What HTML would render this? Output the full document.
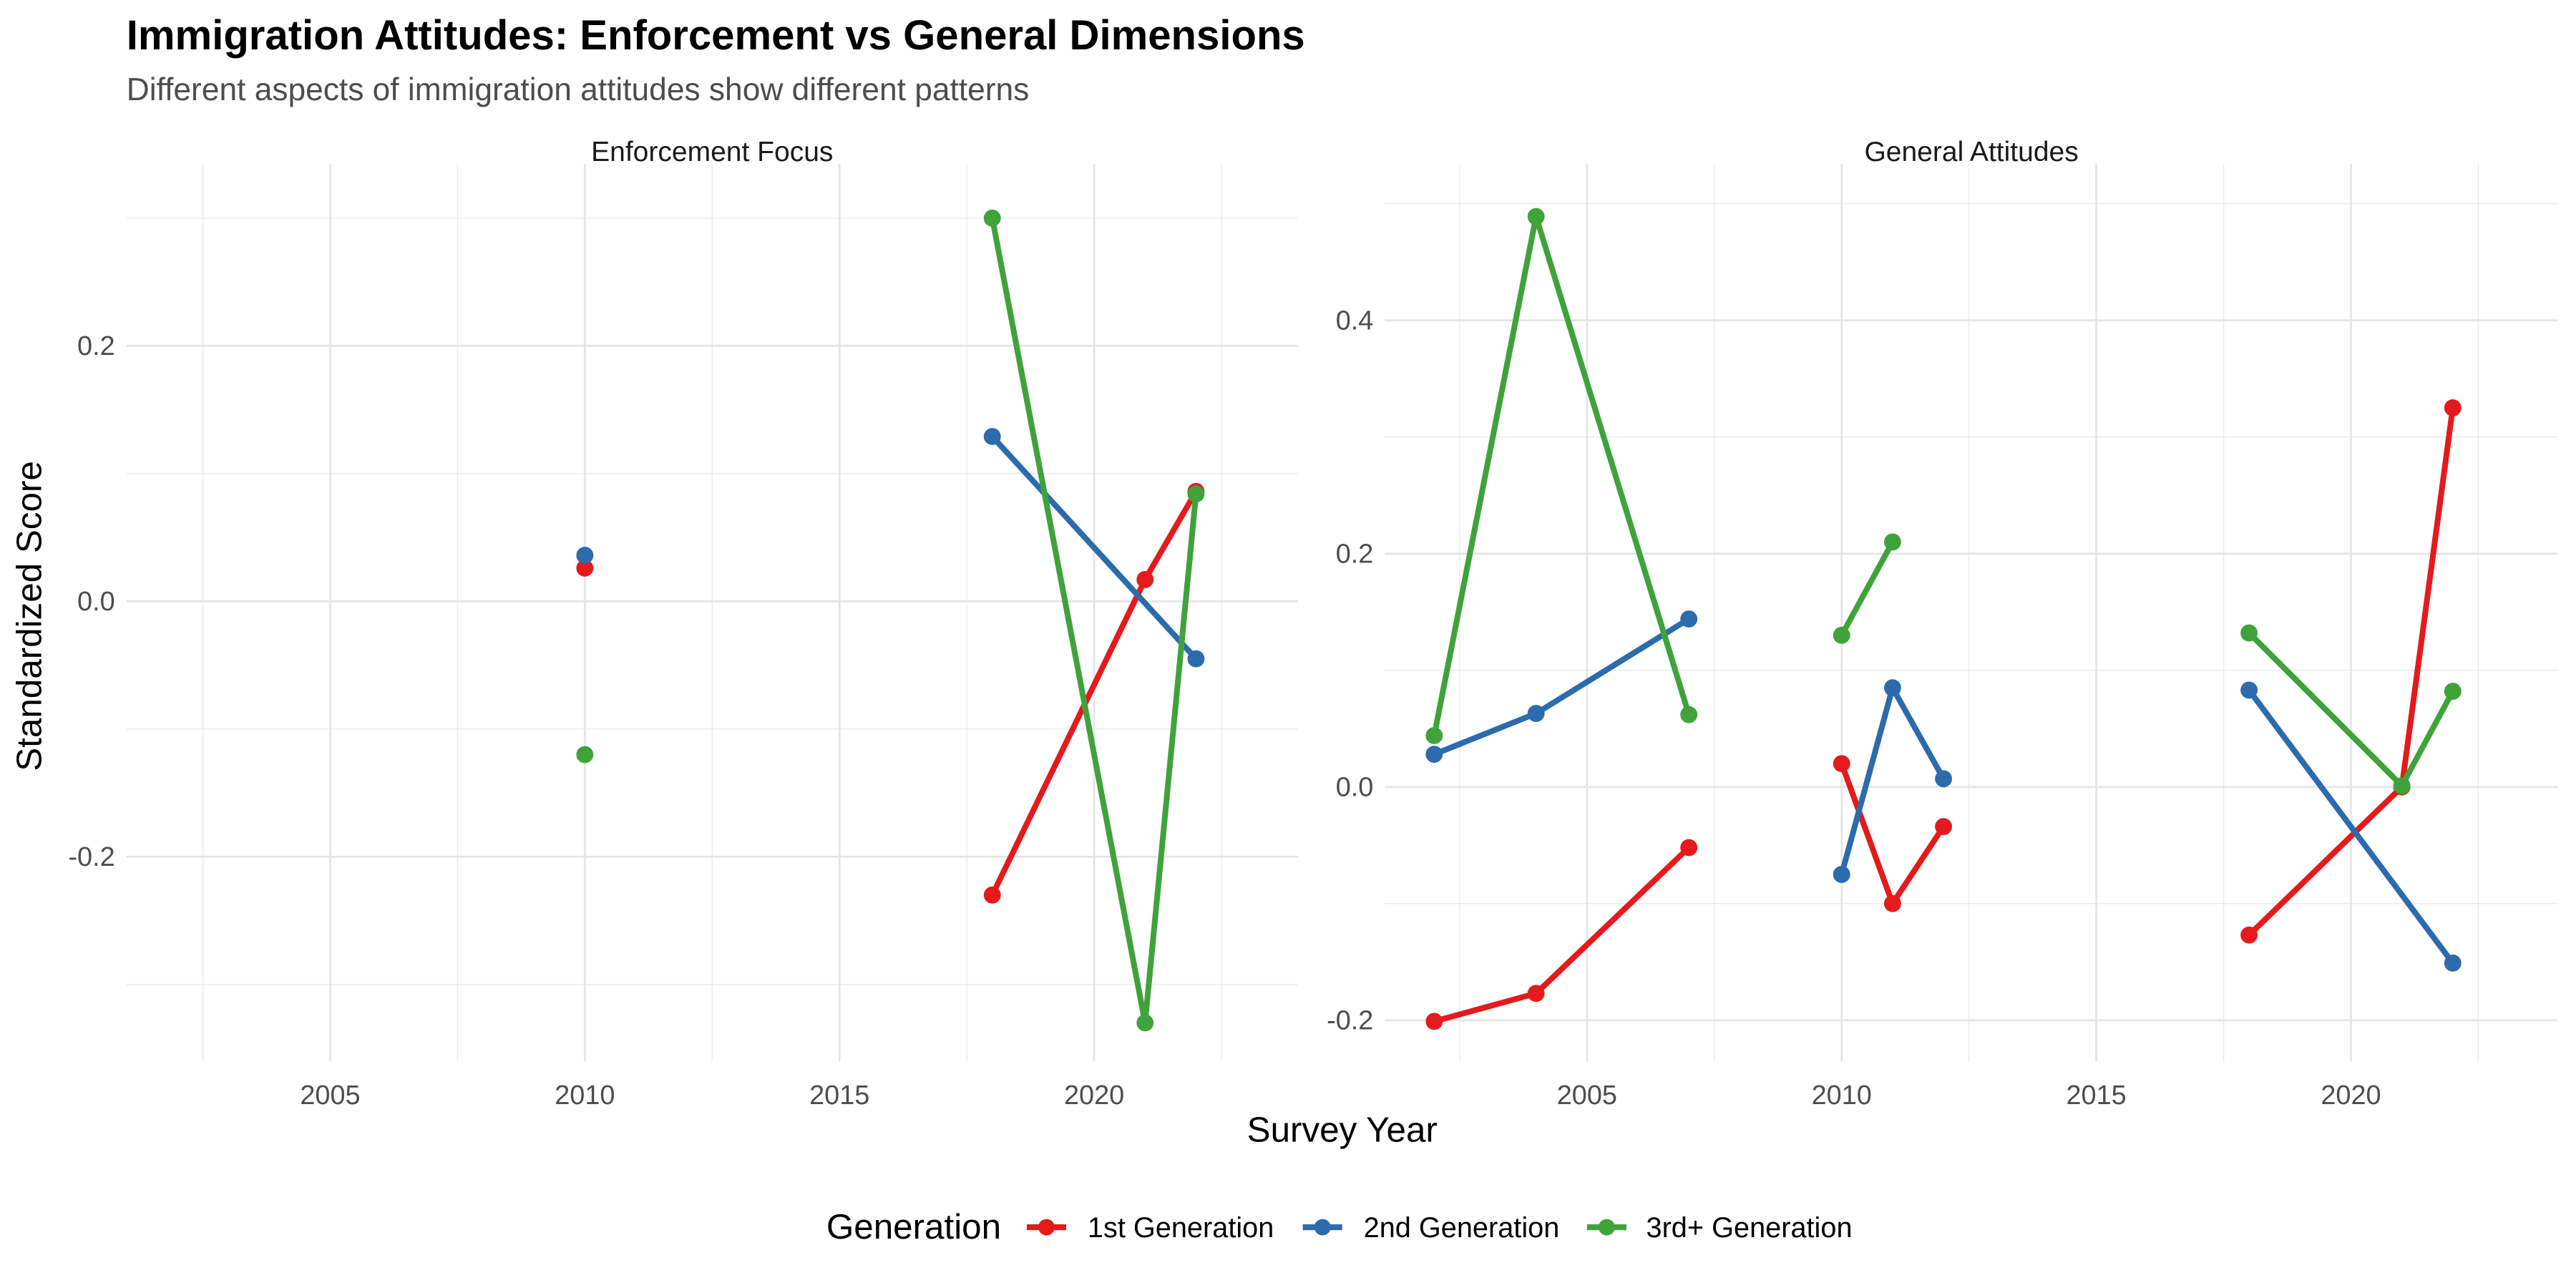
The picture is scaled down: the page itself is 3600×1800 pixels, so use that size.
<!DOCTYPE html>
<html><head><meta charset="utf-8"><style>
html,body{margin:0;padding:0;background:#fff;}
svg{display:block;font-family:"Liberation Sans",Arial,sans-serif;}
</style></head><body>
<svg id="chart" width="3600" height="1800" viewBox="0 0 1568 784" xmlns="http://www.w3.org/2000/svg">
<rect width="1568" height="784" fill="#fff"/>
<text x="77" y="30" font-size="25.3" font-weight="bold" fill="#000">Immigration Attitudes: Enforcement vs General Dimensions</text>
<text x="77" y="61" font-size="19.3" fill="#4d4d4d">Different aspects of immigration attitudes show different patterns</text>
<g id="panels"></g>
<text x="817" y="695" font-size="21.5" text-anchor="middle" fill="#000">Survey Year</text>
<text transform="translate(25,375) rotate(-90)" font-size="21.5" text-anchor="middle" fill="#000">Standardized Score</text>
<g>
<text x="503" y="754" font-size="21.5" fill="#000">Generation</text>
<g><line x1="625" y1="747" x2="649" y2="747" stroke="#E41A1C" stroke-width="3.5"/><circle cx="637" cy="747" r="5" fill="#E41A1C"/><text x="662" y="753" font-size="17.3" fill="#000">1st Generation</text></g>
<g><line x1="793" y1="747" x2="817" y2="747" stroke="#2C6BAC" stroke-width="3.5"/><circle cx="805" cy="747" r="5" fill="#2C6BAC"/><text x="830" y="753" font-size="17.3" fill="#000">2nd Generation</text></g>
<g><line x1="966" y1="747" x2="990" y2="747" stroke="#3FA33A" stroke-width="3.5"/><circle cx="978" cy="747" r="5" fill="#3FA33A"/><text x="1002" y="753" font-size="17.3" fill="#000">3rd+ Generation</text></g>
</g>
</svg>
<script>
// null year = line break
const leftYears = [2010, null, 2018, 2021, 2022];
const leftFirst = [0.026, null, -0.230, 0.017, 0.086];
const leftSecond = [0.036, null, 0.129, null, -0.045];
const leftThird = [-0.120, null, 0.300, -0.330, 0.084];

const rightYears = [2002, 2004, 2007, null, 2010, 2011, 2012, null, 2018, 2021, 2022];
const rightFirst = [-0.201, -0.177, -0.052, null, 0.020, -0.100, -0.034, null, -0.127, 0.000, 0.325];
const rightSecond = [0.028, 0.063, 0.144, null, -0.075, 0.085, 0.007, null, 0.083, null, -0.151];
const rightThird = [0.044, 0.489, 0.062, null, 0.130, 0.210, null, null, 0.132, 0.001, 0.082];

const xTicks = [2005, 2010, 2015, 2020];
const leftYTicks = [-0.2, 0.0, 0.2];
const rightYTicks = [-0.2, 0.0, 0.2, 0.4];
const colors = ['#E41A1C', '#2C6BAC', '#3FA33A'];
const NS = 'http://www.w3.org/2000/svg';
const root = document.getElementById('panels');

function mk(tag, attrs, parent) {
  const e = document.createElementNS(NS, tag);
  for (const k in attrs) e.setAttribute(k, attrs[k]);
  parent.appendChild(e);
  return e;
}

function panel(cfg) {
  const g = mk('g', {}, root);
  
  
  const sx = y => cfg.x0 + (y - 2005) * cfg.pxYear;
  const sy = v => cfg.y0 - v * cfg.pxUnit;
  for (let yr = 2002.5; yr <= 2023; yr += 5) mk('line', {x1: sx(yr), x2: sx(yr), y1: cfg.top, y2: cfg.bottom, stroke: '#ebebeb', 'stroke-width': 0.6}, g);
  for (let v = -0.3; v <= 0.55; v += 0.2) { const yy = sy(v); if (yy >= cfg.top - 1 && yy <= cfg.bottom) mk('line', {x1: cfg.left, x2: cfg.right, y1: yy, y2: yy, stroke: '#ebebeb', 'stroke-width': 0.6}, g); }
  xTicks.forEach(t => {
    mk('line', {x1: sx(t), x2: sx(t), y1: cfg.top, y2: cfg.bottom, stroke: '#e5e5e5', 'stroke-width': 1.2}, g);
    const tx = mk('text', {x: sx(t), y: 672, 'font-size': 16.5, 'text-anchor': 'middle', fill: '#4d4d4d'}, g);
    
    
    tx.textContent = t;
  });
  cfg.yTicks.forEach(t => {
    mk('line', {x1: cfg.left, x2: cfg.right, y1: sy(t), y2: sy(t), stroke: '#e5e5e5', 'stroke-width': 1.2}, g);
    const tx = mk('text', {x: cfg.left - 7, y: sy(t) + 5.5, 'font-size': 16.5, 'text-anchor': 'end', fill: '#4d4d4d'}, g);
    
    
    tx.textContent = t.toFixed(1);
  });
  const st = mk('text', {x: (cfg.left + cfg.right) / 2, y: 98, 'font-size': 17, 'text-anchor': 'middle', fill: '#1a1a1a'}, g);
  
  
  st.textContent = cfg.title;
  cfg.series.forEach((vals, si) => {
    let seg = [];
    const segs = [];
    cfg.years.forEach((yr, i) => {
      if (yr === null) { if (seg.length) segs.push(seg); seg = []; return; }
      if (vals[i] === null) return;
      seg.push([sx(yr), sy(vals[i])]);
    });
    if (seg.length) segs.push(seg);
    segs.forEach(s => {
      if (s.length > 1) {
        const p = mk('polyline', {points: s.map(q => q.join(',')).join(' '), fill: 'none', stroke: colors[si], 'stroke-width': 3.5, 'stroke-linejoin': 'round'}, g);
        
        
      }
    });
    segs.forEach(s => s.forEach(q => {
      const c = mk('circle', {cx: q[0], cy: q[1], r: 5.2, fill: colors[si]}, g);
      
      
    }));
  });
}

panel({name: 'panel-enforcement', title: 'Enforcement Focus', left: 77, right: 790, top: 100, bottom: 646, x0: 201, pxYear: 31, y0: 366, pxUnit: 777.5, yTicks: leftYTicks, years: leftYears, series: [leftFirst, leftSecond, leftThird]});
panel({name: 'panel-general', title: 'General Attitudes', left: 843, right: 1557, top: 100, bottom: 646, x0: 966, pxYear: 31, y0: 479, pxUnit: 710, yTicks: rightYTicks, years: rightYears, series: [rightFirst, rightSecond, rightThird]});
</script>
</body></html>
